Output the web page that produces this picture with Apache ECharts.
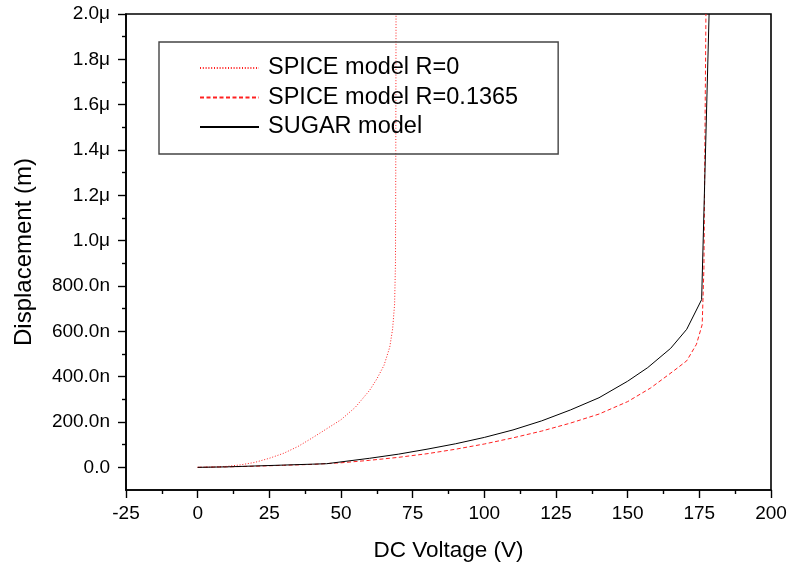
<!DOCTYPE html>
<html><head><meta charset="utf-8">
<script src="https://cdn.jsdelivr.net/npm/echarts@6/dist/echarts.min.js"></script>
<style>html,body{margin:0;padding:0;background:#fff}#c{width:791px;height:569px}</style>
</head><body><div id="c"></div>
<script>
// DC voltage (V) and displacement (nm)
const spice0V = [0,5,10,15,20,25,30,35,40,45,50,55,60,62.5,65,67,68,68.7,69,69.1,69.2];
const spice0D = [0,1,4,11,22,40,62,92,130,170,210,265,340,390,450,530,610,720,900,1300,2000];
const spiceRV = [0,10,20,30,40,50,60,70,80,90,100,110,120,130,140,150,158,166,170.6,174,176,176.6,177.3];
const spiceRD = [0,2,5,9,13,20,31,44,60,80,103,130,160,195,235,290,350,425,470,543,630,880,2000];
const sugarV = [0,10,20,30,40,45,50,60,70,80,90,100,110,120,130,140,150,157,165,170.6,175.8,178.4];
const sugarD = [0,2,6,10,14,16,24,40,58,80,104,132,165,205,253,307,380,440,525,609,740,2000];
const seriesNames = ['SPICE model R=0','SPICE model R=0.1365','SUGAR model'];
const xRange = {min:-25, max:200, step:25};
const yRange = {min:-100, max:2000};
const yMajorTicks = [0,200,400,600,800,1000,1200,1400,1600,1800,2000];
const yMinorTicks = [100,300,500,700,900,1100,1300,1500,1700,1900];

const zip = (a,b) => a.map((v,i)=>[v,b[i]]);
const font = 'Liberation Sans, Arial, sans-serif';
function yFmt(v){
  if (v === 0) return '0.0';
  if (v >= 1000) return (v/1000).toFixed(1)+'\u03bc';
  return v.toFixed(1)+'n';
}
const chart = echarts.init(document.getElementById('c'));
chart.setOption({
  animation:false,
  backgroundColor:'#fff',
  grid:{left:126,right:20,top:14,bottom:79,show:true,borderColor:'#000',borderWidth:1.6,backgroundColor:'transparent'},
  legend:{
    left:159, top:42, orient:'vertical',
    data:seriesNames,
    itemWidth:59, itemHeight:12, itemGap:5.5,
    padding:[14,40,15,40],
    borderColor:'#444', borderWidth:1.4,
    itemStyle:{opacity:0},
    textStyle:{fontFamily:font,fontSize:23.5,color:'#000',padding:[0,0,0,4]}
  },
  xAxis:{
    type:'value', min:xRange.min, max:xRange.max, interval:xRange.step,
    name:'DC Voltage (V)', nameLocation:'middle', nameGap:49,
    nameTextStyle:{fontFamily:font,fontSize:22.5,color:'#000'},
    axisLine:{show:true,onZero:false,lineStyle:{color:'#000',width:1.6}},
    axisTick:{show:true,inside:false,length:8,lineStyle:{color:'#000',width:1.4}},
    minorTick:{show:true,splitNumber:2,length:4,lineStyle:{color:'#000',width:1.4}},
    splitLine:{show:false},
    axisLabel:{fontFamily:font,fontSize:19,color:'#000',margin:14}
  },
  yAxis:[{
    type:'value', min:yRange.min, max:yRange.max,
    name:'Displacement (m)', nameLocation:'middle', nameGap:90,
    nameTextStyle:{fontFamily:font,fontSize:24,color:'#000'},
    axisLine:{show:true,onZero:false,lineStyle:{color:'#000',width:1.6}},
    axisTick:{show:true,inside:false,length:8,customValues:yMajorTicks,lineStyle:{color:'#000',width:1.4}},
    splitLine:{show:false},
    axisLabel:{fontFamily:font,fontSize:19,color:'#000',margin:16,customValues:yMajorTicks,formatter:yFmt}
  },{
    type:'value', min:yRange.min, max:yRange.max, position:'left',
    axisLine:{show:false,onZero:false},
    axisTick:{show:true,inside:false,length:4,customValues:yMinorTicks,lineStyle:{color:'#000',width:1.4}},
    splitLine:{show:false},
    axisLabel:{show:false}
  }],
  series:[
    {name:seriesNames[0],type:'line',symbol:'none',smooth:false,data:zip(spice0V,spice0D),
     lineStyle:{color:'#ff2020',width:1,type:[1,1.8]},itemStyle:{color:'#ff2020'}},
    {name:seriesNames[1],type:'line',symbol:'none',smooth:false,data:zip(spiceRV,spiceRD),
     lineStyle:{color:'#ff2020',width:1,type:[4,2.5]},itemStyle:{color:'#ff2020'}},
    {name:seriesNames[2],type:'line',symbol:'none',smooth:false,data:zip(sugarV,sugarD),
     lineStyle:{color:'#000',width:1},itemStyle:{color:'#000'}}
  ]
});
</script></body></html>
